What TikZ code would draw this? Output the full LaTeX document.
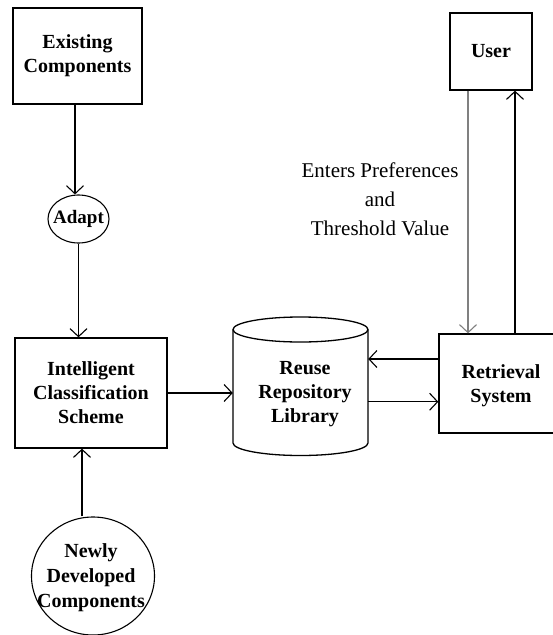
\documentclass[tikz,border=0pt]{standalone}
\usepackage{fontspec}
\setmainfont{Liberation Serif}
\usetikzlibrary{arrows.meta,shapes.geometric,calc}
\begin{document}
\begin{tikzpicture}[x=1pt,y=-1pt,
 box/.style={draw,line width=1.3pt,inner sep=0pt,align=center,font=\bfseries\fontsize{20}{24}\selectfont},
 lbl/.style={inner sep=0pt,align=center,font=\bfseries\fontsize{20}{24}\selectfont},
 arr/.style={line width=1.3pt,-{Straight Barb[length=8pt,width=17pt,line width=1.1pt]}}]
\useasboundingbox (0,0) rectangle (552,635);
\node[box,minimum width=129pt,minimum height=96pt] (ec) at (77.5,56) {Existing\\Components};
\node[draw,ellipse,line width=1.1pt,inner sep=0pt,minimum width=61pt,minimum height=48pt] (ad) at (78.5,219) {};
\node[lbl,font=\bfseries\fontsize{19}{22}\selectfont] (adt) at (ad) {Adapt};
\node[box,minimum width=152pt,minimum height=110pt] (ics) at (91,393) {Intelligent\\Classification\\Scheme};
\node[draw,ellipse,line width=1.1pt,inner sep=0pt,minimum width=123pt,minimum height=118pt] (nd) at (93,576) {};
\node[lbl,font=\bfseries\fontsize{20}{25}\selectfont] (ndt) at (91,578) {Newly\\Developed\\Components};
\node[box,minimum width=82pt,minimum height=77pt] (us) at (491,51.5) {User};
\node[draw,line width=1.3pt,minimum width=120pt,minimum height=99pt] (rs) at (499,383.5) {};
\node[lbl] (rst) at (501,386) {Retrieval\\System};
% cylinder
\draw[line width=1.3pt] (233,329.5) -- (233,443) arc[start angle=180,end angle=360,x radius=67.5,y radius=-12.5] -- (368,329.5);
\draw[line width=1.3pt] (300.5,329.5) ellipse[x radius=67.5,y radius=12.5];
\node[minimum width=135pt,minimum height=113.5pt,inner sep=0pt] (repo) at (300.5,386.25) {};
\node[lbl] (repot) at (305,394) {Reuse\\Repository\\Library};
\node[align=center,font=\fontsize{21}{29}\selectfont] (txt) at (380,199) {Enters Preferences\\and\\Threshold Value};
% connectors
\draw[arr] ([xshift=-2.5pt]ec.south) -- ([xshift=-2.5pt]ec.south |- ad.north);
\draw[arr] (ad.south) -- (ad.south |- ics.north);
\draw[arr] ([xshift=-11pt]nd.north) -- ([xshift=-11pt]nd.north |- ics.south);
\draw[arr] (ics.east) -- (ics.east -| repo.west);
\draw[arr] ([yshift=24.5pt]rs.west) -- ([yshift=24.5pt]rs.west -| repo.east);
\draw[arr] ([yshift=-15.5pt]repo.east -| repo.east) -- ([yshift=-15.5pt]repo.east -| rs.west);
\draw[arr,gray] ([xshift=-23pt]us.south) -- ([xshift=-23pt]us.south |- rs.north);
\draw[arr] ([xshift=24pt]us.south |- rs.north) -- ([xshift=24pt]us.south);
\end{tikzpicture}
\end{document}
